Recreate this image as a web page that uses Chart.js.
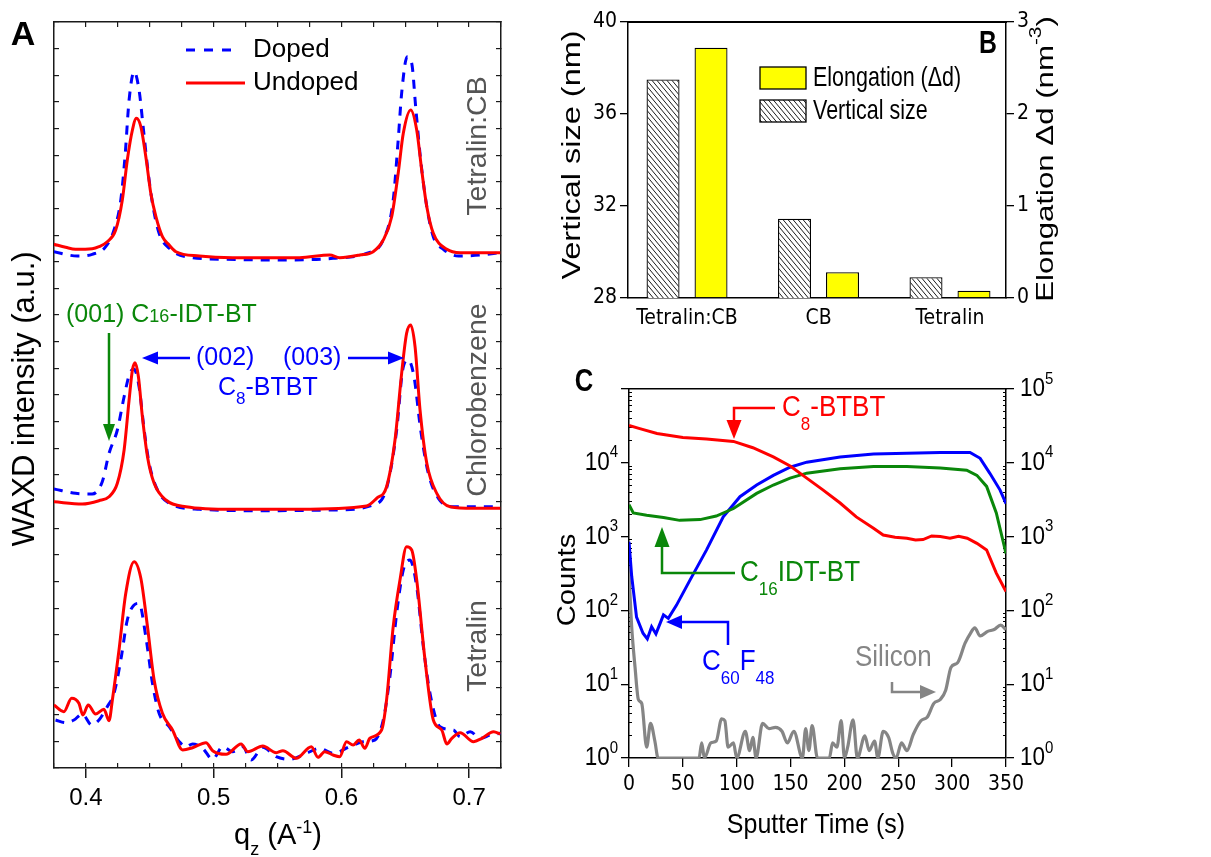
<!DOCTYPE html>
<html><head><meta charset="utf-8">
<script src="https://cdn.jsdelivr.net/npm/chart.js@4/dist/chart.umd.min.js"></script>
<style>
html,body{margin:0;padding:0;background:#fff;width:1211px;height:857px;overflow:hidden}
canvas{position:absolute}
#cA{left:0;top:0}
#cB{left:540px;top:0}
#cC{left:540px;top:345px}
</style></head><body>
<canvas id="cA" width="530" height="857"></canvas>
<canvas id="cB" width="530" height="340"></canvas>
<canvas id="cC" width="530" height="512"></canvas>
<script>
// ---------------- Panel A data (q in A^-1, intensity in a.u.) ----------------
const qMin = 0.375, qMax = 0.725;
const qMajorTicks = [0.4, 0.5, 0.6, 0.7];
const qMinorTicks = [0.375,0.4,0.425,0.45,0.475,0.5,0.525,0.55,0.575,0.6,0.625,0.65,0.675,0.7,0.725];
const iMax = 746;

const qTopUndoped = [0.3749,0.3841,0.3919,0.4049,0.4102,0.4167,0.4233,0.4285,0.4324,0.4364,0.4395,0.4430,0.4469,0.4508,0.4548,0.4599,0.4652,0.4705,0.4888,0.5149,0.5412,0.5673,0.5909,0.5987,0.6145,0.6249,0.6328,0.6394,0.6445,0.6485,0.6543,0.6590,0.6629,0.6669,0.6720,0.6826,0.6930,0.7244];
const iTopUndoped = [523.7,520.7,518.7,519.3,521.3,526.3,538,568,608,638,649.7,641.3,611.3,574.7,551.3,531.3,523,516.3,512,510.3,510.3,510.3,513,510.3,513,516.3,528,551.3,594.7,634.7,658,638,598,561.3,534.7,518.7,515.3,515.3];
const qTopDoped = [0.3749,0.3932,0.4049,0.4155,0.4220,0.4273,0.4306,0.4338,0.4377,0.4416,0.4448,0.4482,0.4521,0.4573,0.4652,0.4783,0.5097,0.5569,0.5935,0.6197,0.6328,0.6406,0.6445,0.6472,0.6516,0.6551,0.6584,0.6621,0.6669,0.6720,0.6799,0.6917,0.7087,0.7244];
const iTopDoped = [516.3,512,513.7,521.3,538,568,611.3,668,696.3,678,641.3,601.3,564.7,534.7,519.7,511.3,508.7,508,509.7,514.7,528,568,628,674.7,711.3,704.7,658,608,561.3,531.3,518.7,512,513,515.3];

const qMidUndoped = [0.3749,0.3971,0.4102,0.4181,0.4246,0.4299,0.4338,0.4364,0.4385,0.4411,0.4442,0.4482,0.4534,0.4626,0.4783,0.5149,0.5673,0.6197,0.6276,0.6354,0.6420,0.6472,0.6511,0.6543,0.6577,0.6616,0.6669,0.6747,0.6852,0.7035,0.7244];
const iMidUndoped = [266.3,264,267.3,271.3,284.7,318,368,398,405.3,391.3,351.3,311.3,284.7,268,261.3,258.7,258.7,262,269.7,281.3,328,394.7,434.7,443,421.3,358,304.7,274.7,261.3,259.7,259.7];
const qMidDoped = [0.3749,0.3919,0.4049,0.4128,0.4181,0.4246,0.4299,0.4343,0.4377,0.4416,0.4456,0.4495,0.4560,0.4652,0.4888,0.5412,0.5935,0.6249,0.6354,0.6433,0.6480,0.6524,0.6569,0.6621,0.6681,0.6760,0.6878,0.7035,0.7244];
const iMidDoped = [279,274.7,274,286.3,314.7,338,371.3,394.7,398.7,381.3,338,304.7,278,264.7,258.7,257.3,258,263,279.7,338,398,408,391.3,338,294.7,269.7,261.3,261.3,261.3];

const qBotUndoped = [0.3749,0.3827,0.3888,0.3945,0.3976,0.4018,0.4076,0.4141,0.4181,0.4207,0.4259,0.4312,0.4377,0.4430,0.4482,0.4534,0.4599,0.4678,0.4757,0.4835,0.4940,0.4992,0.5097,0.5215,0.5267,0.5385,0.5490,0.5542,0.5647,0.5765,0.5817,0.5870,0.5935,0.5987,0.6040,0.6092,0.6139,0.6184,0.6223,0.6315,0.6354,0.6406,0.6459,0.6511,0.6551,0.6590,0.6655,0.6720,0.6786,0.6826,0.6865,0.6930,0.7035,0.7100,0.7192,0.7244];
const iBotUndoped = [63,56.3,69.7,64.7,53,63,54,58.7,47.3,68,118,174.7,206.3,189.7,141.3,88,54.7,38,18,20.3,25.3,17.3,13.7,24,16.3,22,15.3,17.3,9.7,21.3,10.7,16.3,13,11.3,26.3,23,28,19.7,29.7,38,68,141.3,188,221.3,218,188,108,48,38,24,29.7,35.3,26.3,29.7,36.3,34];
const qBotDoped = [0.3762,0.3841,0.3906,0.3971,0.4045,0.4102,0.4167,0.4220,0.4273,0.4324,0.4377,0.4416,0.4469,0.4521,0.4573,0.4652,0.4731,0.4783,0.4835,0.4914,0.4992,0.5071,0.5149,0.5228,0.5294,0.5385,0.5490,0.5595,0.5726,0.5830,0.5935,0.6066,0.6171,0.6262,0.6328,0.6380,0.6433,0.6485,0.6537,0.6590,0.6642,0.6694,0.6773,0.6878,0.6930,0.7009,0.7087,0.7166,0.7244];
const iBotDoped = [48,45.3,48,54,43,48,61.3,74.7,108,148,163,164.7,131.3,84.7,54.7,41.3,26.3,21.3,24,19.7,8.7,21.3,16.3,21.3,8,20.7,11.3,8.7,14.7,19.7,14.7,21.3,26.3,28,48,91.3,154.7,198,208,181.3,121.3,74.7,41.3,38,31.3,36.3,29.7,33,34.7];

// ---------------- Panel B data ----------------
const bCats = ['Tetralin:CB', 'CB', 'Tetralin'];
const bVertical = [37.5, 31.45, 28.9];     // nm (left axis)
const bElong = [2.72, 0.28, 0.08];         // nm^-3 (right axis)
const bLeftTicks = [28, 32, 36, 40];
const bRightTicks = [0, 1, 2, 3];

// ---------------- Panel C data (sputter time s, counts) ----------------
const cTimeTicks = [0, 50, 100, 150, 200, 250, 300, 350];
const cDecades = [1, 10, 100, 1000, 10000, 100000];
const cMinorTicks = [2,3,4,5,6,7,8,9,20,30,40,50,60,70,80,90,200,300,400,500,600,700,800,900,2000,3000,4000,5000,6000,7000,8000,9000,20000,30000,40000,50000,60000,70000,80000,90000];
const tRed = [0,10,26,50,72,97,115,134,150,165,180,196,211,227,236,247,258,266,273,281,289,298,306,314,323,332,341,350];
const cRed = [32000,29000,25000,22000,21000,19500,16000,12000,9000,6200,4300,2850,1850,1300,1050,980,950,900,910,1020,1000,950,1010,950,810,660,320,180];
const tBlue = [0,2.5,7,13,17,21,25,32,36.5,44,56.6,72,87.5,103,118.5,134,149.5,165,196,227,258,289,316.6,326,335,344.5,350];
const cBlue = [850,290,81,49,41,60,48,87,78,117,257,660,1860,3470,5000,6760,8700,10200,12000,13200,13500,13800,13800,11500,7200,4270,2800];
const tGreen = [0,4,16.4,32,47,66,81,97,118.5,134,149.5,165,196,227,258,289,313.5,323,332,341,350];
const cGreen = [2700,2090,1950,1820,1660,1700,1900,2400,3850,5000,6200,7240,8300,8900,8900,8500,7940,6760,4790,2090,590];
const tSi = [0,2.5,5.6,8.7,11.8,16.4,20,24,27,65,67.5,70,76,81,86,89,92,97,100,108,112,115,118,124,130,136,142,147,153,161,164,167,170,175,186,189,193,197,200,203,208,212,219,223,228,231,236,241,245,248,253,258,264,271,277,283,289,294,299,305,312,317,321,326,333,339,345,350];
const cSi = [316,60,17,6.2,5.5,1.4,2.95,1.7,1,1,1.6,1,1.6,1.7,3.4,3.2,1.4,1.6,1,2.3,1.26,1.9,1,2.95,2.5,2.6,2.3,1.6,2.3,1,2.5,1.26,2.75,1,1,1.6,1.4,3.2,1,1.4,3.3,1,2.0,1.26,1.7,1,2.3,1.9,1.15,1,1.6,1.26,2.1,3.2,3.6,5.5,6.2,8.3,17,19.5,36,49,58,45,52,55,63,55];

// ---------------- helpers ----------------
const pts = (xs, ys) => xs.map((x, i) => ({x: x, y: ys[i]}));
const SANS = '"Liberation Sans", Arial, Helvetica, sans-serif';
function fontAvailable(name) {
  const c = document.createElement('canvas').getContext('2d');
  const s = 'abcdefghijklmnopqrstuvwxyz0123456789';
  c.font = '40px monospace'; const a = c.measureText(s).width;
  c.font = '40px "' + name + '", monospace'; const b = c.measureText(s).width;
  return a !== b;
}
const HAS_NARROW = fontAvailable('Liberation Sans Narrow');
const NARROW = HAS_NARROW ? '"Liberation Sans Narrow", sans-serif' : '"DejaVu Sans Condensed", "Liberation Sans", sans-serif';
const NSIZE = HAS_NARROW ? 24.5 : 21;
const FRAME = '#1a1a1a';
const RED = '#ff0000', BLUE = '#0000ff', GREEN = '#0a870a', GRAY = '#858585';

function drawRich(ctx, x, y, segs, o) {
  ctx.save();
  ctx.translate(x, y);
  if (o.rot) ctx.rotate(o.rot);
  ctx.scale(o.ax || 1, o.ay || 1);
  ctx.fillStyle = o.color || '#000';
  ctx.textBaseline = 'middle';
  ctx.textAlign = 'left';
  const fam = o.family || SANS, wt = o.weight || 'normal';
  const subSize = o.subSize || o.size * 0.65;
  const parts = segs.map(s => {
    const sz = (s.sub || s.sup) ? subSize : (s.size || o.size);
    const font = wt + ' ' + sz + 'px ' + fam;
    ctx.font = font;
    let dy = s.dy || 0;
    if (s.sub) dy = o.subDy != null ? o.subDy : o.size * 0.35;
    if (s.sup) dy = o.supDy != null ? o.supDy : -o.size * 0.38;
    return {t: s.t, font: font, w: ctx.measureText(s.t).width, dy: dy};
  });
  const total = parts.reduce((a, p) => a + p.w, 0);
  let cx = o.align === 'center' ? -total / 2 : (o.align === 'right' ? -total : 0);
  for (const p of parts) { ctx.font = p.font; ctx.fillText(p.t, cx, p.dy); cx += p.w; }
  ctx.restore();
}
function arrow(ctx, P, color, lw, hl, hw) {
  const n = P.length, tx = P[n-1][0], ty = P[n-1][1], px = P[n-2][0], py = P[n-2][1];
  const dx = tx - px, dy = ty - py, L = Math.hypot(dx, dy), ux = dx / L, uy = dy / L;
  const bx = tx - ux * hl, by = ty - uy * hl;
  ctx.save();
  ctx.strokeStyle = color; ctx.fillStyle = color; ctx.lineWidth = lw; ctx.lineJoin = 'miter'; ctx.lineCap = 'butt';
  ctx.beginPath(); ctx.moveTo(P[0][0], P[0][1]);
  for (let i = 1; i < n - 1; i++) ctx.lineTo(P[i][0], P[i][1]);
  ctx.lineTo(bx, by); ctx.stroke();
  ctx.beginPath(); ctx.moveTo(tx, ty); ctx.lineTo(bx - uy * hw, by + ux * hw); ctx.lineTo(bx + uy * hw, by - ux * hw); ctx.closePath(); ctx.fill();
  ctx.restore();
}
function makeHatch() {
  const p = document.createElement('canvas'); p.width = 5; p.height = 6;
  const g = p.getContext('2d');
  g.fillStyle = '#fff'; g.fillRect(0, 0, 5, 6);
  g.strokeStyle = '#000'; g.lineWidth = 0.9;
  g.beginPath();
  for (const k of [-5, 0, 5]) { g.moveTo(k, 0); g.lineTo(k + 5, 6); }
  g.stroke();
  return g.createPattern(p, 'repeat');
}
const HATCH = makeHatch();
const fixW = w => s => { s.width = w; };
const fixH = h => s => { s.height = h; };
const setTicks = arr => s => { s.ticks = arr.map(v => ({value: v})); };

// ---------------- Panel A ----------------
const annotA = {
  id: 'annotA',
  afterDraw(chart) {
    const ctx = chart.ctx;
    drawRich(ctx, 23, 36, [{t: 'A'}], {size: 34, weight: 'bold', align: 'center'});
    ctx.save();
    ctx.lineWidth = 3; ctx.strokeStyle = BLUE; ctx.setLineDash([9, 9]);
    ctx.beginPath(); ctx.moveTo(186, 50); ctx.lineTo(240, 50); ctx.stroke();
    ctx.setLineDash([]); ctx.strokeStyle = RED;
    ctx.beginPath(); ctx.moveTo(186, 83); ctx.lineTo(245, 83); ctx.stroke();
    ctx.restore();
    drawRich(ctx, 253, 50, [{t: 'Doped'}], {size: 26});
    drawRich(ctx, 253, 83, [{t: 'Undoped'}], {size: 26});
    drawRich(ctx, 25, 399, [{t: 'WAXD intensity (a.u.)'}], {size: 31, rot: -Math.PI / 2, align: 'center'});
    drawRich(ctx, 278, 836, [{t: 'q'}, {t: 'z', sub: true}, {t: ' (A'}, {t: '-1', sup: true}, {t: ')'}],
      {size: 29, align: 'center', subDy: 14, supDy: -8, subSize: 18});
    const sl = {size: 28.5, rot: -Math.PI / 2, align: 'center', color: '#555'};
    drawRich(ctx, 478, 146, [{t: 'Tetralin:CB'}], sl);
    drawRich(ctx, 478, 400, [{t: 'Chlorobenzene'}], sl);
    drawRich(ctx, 478, 646, [{t: 'Tetralin'}], sl);
    drawRich(ctx, 66, 315, [{t: '(001) C'}, {t: '16', size: 18, dy: 2.5}, {t: '-IDT-BT'}], {size: 25, color: GREEN});
    arrow(ctx, [[109, 333], [109, 441]], GREEN, 2.5, 17, 6);
    drawRich(ctx, 196, 358, [{t: '(002)'}], {size: 25, color: BLUE});
    arrow(ctx, [[190, 358], [142, 358]], BLUE, 2.5, 16, 6.5);
    drawRich(ctx, 283, 358, [{t: '(003)'}], {size: 25, color: BLUE});
    arrow(ctx, [[348, 358], [404, 358]], BLUE, 2.5, 16, 6.5);
    drawRich(ctx, 218, 388, [{t: 'C'}, {t: '8', sub: true}, {t: '-BTBT'}], {size: 25, color: BLUE, subDy: 11, subSize: 17});
  }
};

const lineA = (label, xs, ys, color, dashed) => ({
  label: label, data: pts(xs, ys), borderColor: color, borderWidth: 3,
  borderDash: dashed ? [9, 8] : [], pointRadius: 0, cubicInterpolationMode: 'monotone', fill: false
});
const yTicksA = s => { const t = []; for (let k = 0; k <= 28; k++) t.push({value: k * iMax / 28}); s.ticks = t; };

new Chart(document.getElementById('cA'), {
  type: 'line',
  data: {datasets: [
    lineA('Undoped', qTopUndoped, iTopUndoped, RED, false),
    lineA('Undoped', qMidUndoped, iMidUndoped, RED, false),
    lineA('Undoped', qBotUndoped, iBotUndoped, RED, false),
    lineA('Doped', qTopDoped, iTopDoped, BLUE, true),
    lineA('Doped', qMidDoped, iMidDoped, BLUE, true),
    lineA('Doped', qBotDoped, iBotDoped, BLUE, true)
  ]},
  options: {
    responsive: false, animation: false, devicePixelRatio: 1,
    layout: {padding: {top: 22, left: 0, right: 0, bottom: 0}},
    plugins: {legend: {display: false}, tooltip: {enabled: false}},
    scales: {
      x: {type: 'linear', position: 'bottom', min: qMin, max: qMax, weight: 1,
        afterBuildTicks: setTicks(qMajorTicks),
        ticks: {autoSkip: false, maxRotation: 0, padding: 6, color: '#000', font: {family: SANS, size: 24}, callback: v => Number(v).toFixed(1)},
        grid: {display: true, drawOnChartArea: false, tickLength: 10, color: FRAME, lineWidth: 1.5},
        border: {display: true, color: FRAME, width: 1.5},
        afterFit: fixH(89)},
      xMinor: {type: 'linear', position: 'bottom', min: qMin, max: qMax, weight: 0,
        afterBuildTicks: setTicks(qMinorTicks), ticks: {display: false},
        grid: {display: true, drawOnChartArea: false, tickLength: -5, color: FRAME, lineWidth: 1.2},
        border: {display: false}, afterFit: fixH(0)},
      xTop: {type: 'linear', position: 'top', min: qMin, max: qMax,
        afterBuildTicks: setTicks(qMinorTicks), ticks: {display: false},
        grid: {display: true, drawOnChartArea: false, tickLength: -5, color: FRAME, lineWidth: 1.2},
        border: {display: true, color: FRAME, width: 1.5}, afterFit: fixH(0)},
      y: {type: 'linear', position: 'left', min: 0, max: iMax,
        afterBuildTicks: yTicksA, ticks: {display: false},
        grid: {display: true, drawOnChartArea: false, tickLength: -5, color: FRAME, lineWidth: 1.2},
        border: {display: true, color: FRAME, width: 1.5}, afterFit: fixW(54)},
      y2: {type: 'linear', position: 'right', min: 0, max: iMax,
        afterBuildTicks: yTicksA, ticks: {display: false},
        grid: {display: true, drawOnChartArea: false, tickLength: -5, color: FRAME, lineWidth: 1.2},
        border: {display: true, color: FRAME, width: 1.5}, afterFit: fixW(29)}
    }
  },
  plugins: [annotA]
});

// ---------------- Panel B ----------------
const annotB = {
  id: 'annotB',
  afterDraw(chart) {
    const ctx = chart.ctx;
    drawRich(ctx, 448, 44, [{t: 'B'}], {size: 31, weight: 'bold', align: 'center', ax: 0.8});
    ctx.save();
    ctx.lineWidth = 1.3; ctx.strokeStyle = '#000';
    ctx.fillStyle = '#ffff00'; ctx.fillRect(220, 67, 46, 22); ctx.strokeRect(220, 67, 46, 22);
    ctx.fillStyle = HATCH; ctx.fillRect(220, 100, 46, 22); ctx.strokeRect(220, 100, 46, 22);
    ctx.restore();
    drawRich(ctx, 273, 78, [{t: 'Elongation (\u0394d)'}], {size: 21.5, ay: 1.3});
    drawRich(ctx, 273, 111, [{t: 'Vertical size'}], {size: 21.5, ay: 1.3});
    drawRich(ctx, 33, 155, [{t: 'Vertical size (nm)'}], {size: 25, rot: -Math.PI / 2, align: 'center', ax: 1.3});
    drawRich(ctx, 506, 159, [{t: 'Elongation \u0394d (nm'}, {t: '-3', sup: true}, {t: ')'}],
      {size: 24, rot: -Math.PI / 2, align: 'center', ax: 1.3, subSize: 16, supDy: -9});
  }
};

new Chart(document.getElementById('cB'), {
  type: 'bar',
  data: {datasets: [
    {label: 'Vertical size', data: pts([0, 1, 2], bVertical), yAxisID: 'y', xAxisID: 'x',
      backgroundColor: HATCH, borderColor: '#000', borderWidth: 1.3, barPercentage: 0.6875, categoryPercentage: 0.73},
    {label: 'Elongation (\u0394d)', data: pts([0, 1, 2], bElong), yAxisID: 'y2', xAxisID: 'x',
      backgroundColor: '#ffff00', borderColor: '#000', borderWidth: 1.3, barPercentage: 0.6875, categoryPercentage: 0.73}
  ]},
  options: {
    responsive: false, animation: false, devicePixelRatio: 1,
    layout: {padding: {top: 22, left: 0, right: 0, bottom: 0}},
    plugins: {legend: {display: false}, tooltip: {enabled: false}},
    scales: {
      x: {type: 'linear', position: 'bottom', min: -0.449, max: 2.426, offset: false,
        afterBuildTicks: setTicks([0, 1, 2]),
        grid: {display: false, drawTicks: false, offset: false},
        border: {display: true, color: '#000', width: 1.5},
        ticks: {color: '#000', font: {family: NARROW, size: NSIZE}, padding: 8, maxRotation: 0, autoSkip: false, callback: v => bCats[Math.round(v)]},
        afterFit: fixH(42)},
      xTop: {type: 'linear', position: 'top', min: -0.449, max: 2.426, offset: false,
        grid: {display: false, drawTicks: false}, ticks: {display: false},
        border: {display: true, color: '#000', width: 2}, afterFit: fixH(0)},
      y: {type: 'linear', position: 'left', min: 28, max: 40,
        afterBuildTicks: setTicks(bLeftTicks),
        grid: {display: true, drawOnChartArea: false, tickLength: 8, color: '#000', lineWidth: 1.3},
        border: {display: true, color: '#000', width: 1.5},
        ticks: {color: '#000', font: {family: NARROW, size: NSIZE}, padding: 3},
        afterFit: fixW(88)},
      y2: {type: 'linear', position: 'right', min: 0, max: 3,
        afterBuildTicks: setTicks(bRightTicks),
        grid: {display: true, drawOnChartArea: false, tickLength: 8, color: '#000', lineWidth: 1.3},
        border: {display: true, color: '#000', width: 1.5},
        ticks: {color: '#000', font: {family: NARROW, size: NSIZE}, padding: 3},
        afterFit: fixW(64)}
    }
  },
  plugins: [annotB]
});

// ---------------- Panel C ----------------
const annotC = {
  id: 'annotC',
  afterDraw(chart) {
    const ctx = chart.ctx;
    drawRich(ctx, 44, 37, [{t: 'C'}], {size: 32, weight: 'bold', align: 'center', ax: 0.8});
    const yl = chart.scales.y, yr = chart.scales.y2;
    const exps = ['0', '1', '2', '3', '4', '5'];
    cDecades.forEach((v, i) => {
      const py = yl.getPixelForValue(v);
      if (i < 5) drawRich(ctx, 78, py, [{t: '10'}, {t: exps[i], sup: true}], {size: 22.5, ay: 1.13, align: 'right', subSize: 15, supDy: -9});
      drawRich(ctx, 480, yr.getPixelForValue(v), [{t: '10'}, {t: exps[i], sup: true}], {size: 22.5, ay: 1.13, subSize: 15, supDy: -9});
    });
    drawRich(ctx, 28, 235, [{t: 'Counts'}], {size: 25, rot: -Math.PI / 2, align: 'center', ax: 1.17});
    drawRich(ctx, 276, 480, [{t: 'Sputter Time (s)'}], {size: 25, ay: 1.13, align: 'center'});
    const ao = {size: 26, ay: 1.13, subSize: 17, subDy: 15};
    drawRich(ctx, 242, 63, [{t: 'C'}, {t: '8', sub: true}, {t: '-BTBT'}], Object.assign({color: RED}, ao));
    arrow(ctx, [[235, 63], [194, 63], [194, 94]], RED, 2.5, 19, 7.5);
    drawRich(ctx, 200, 228, [{t: 'C'}, {t: '16', sub: true}, {t: 'IDT-BT'}], Object.assign({color: GREEN}, ao));
    arrow(ctx, [[195, 228], [122, 228], [122, 182]], GREEN, 2.5, 20, 7.5);
    drawRich(ctx, 162, 317, [{t: 'C'}, {t: '60', sub: true}, {t: 'F'}, {t: '48', sub: true}], Object.assign({color: BLUE}, ao));
    arrow(ctx, [[188, 300], [188, 277], [126, 277]], BLUE, 2.5, 16, 7);
    drawRich(ctx, 315, 313, [{t: 'Silicon'}], Object.assign({color: GRAY}, ao));
    arrow(ctx, [[352, 337], [352, 347], [396, 347]], GRAY, 2.5, 16, 7);
  }
};

const lineC = (label, xs, ys, color, w, smooth) => ({
  label: label, data: pts(xs, ys), borderColor: color, borderWidth: w, pointRadius: 0, fill: false,
  cubicInterpolationMode: smooth ? 'monotone' : 'default', tension: 0
});
const minorLog = (pos, w) => ({type: 'logarithmic', position: pos, min: 1, max: 100000, weight: -1,
  afterBuildTicks: setTicks(cMinorTicks), ticks: {display: false},
  grid: {display: true, drawOnChartArea: false, tickLength: -3, color: '#000', lineWidth: 1},
  border: {display: false}, afterFit: fixW(0)});

new Chart(document.getElementById('cC'), {
  type: 'line',
  data: {datasets: [
    lineC('C8-BTBT', tRed, cRed, RED, 3, false),
    lineC('C16IDT-BT', tGreen, cGreen, GREEN, 3, false),
    lineC('C60F48', tBlue, cBlue, BLUE, 3, false),
    lineC('Silicon', tSi, cSi, GRAY, 3.2, true)
  ]},
  options: {
    responsive: false, animation: false, devicePixelRatio: 1,
    layout: {padding: {top: 44, left: 0, right: 0, bottom: 0}},
    plugins: {legend: {display: false}, tooltip: {enabled: false}},
    scales: {
      x: {type: 'linear', position: 'bottom', min: 0, max: 350,
        afterBuildTicks: setTicks(cTimeTicks),
        grid: {display: true, drawOnChartArea: false, tickLength: 9, color: '#000', lineWidth: 1.3},
        border: {display: true, color: '#000', width: 1.5},
        ticks: {color: '#000', font: {family: NARROW, size: NSIZE}, padding: 5, maxRotation: 0, autoSkip: false},
        afterFit: fixH(99)},
      xTop: {type: 'linear', position: 'top', min: 0, max: 350,
        grid: {display: false, drawTicks: false}, ticks: {display: false},
        border: {display: true, color: '#000', width: 1.5}, afterFit: fixH(0)},
      y: {type: 'logarithmic', position: 'left', min: 1, max: 100000,
        afterBuildTicks: setTicks(cDecades), ticks: {display: false},
        grid: {display: true, drawOnChartArea: false, tickLength: 8, color: '#000', lineWidth: 1.3},
        border: {display: true, color: '#000', width: 1.5}, afterFit: fixW(89)},
      yMinorL: minorLog('left'),
      y2: {type: 'logarithmic', position: 'right', min: 1, max: 100000,
        afterBuildTicks: setTicks(cDecades), ticks: {display: false},
        grid: {display: true, drawOnChartArea: false, tickLength: 8, color: '#000', lineWidth: 1.3},
        border: {display: true, color: '#000', width: 1.5}, afterFit: fixW(64)},
      yMinorR: minorLog('right')
    }
  },
  plugins: [annotC]
});
</script>
</body></html>
